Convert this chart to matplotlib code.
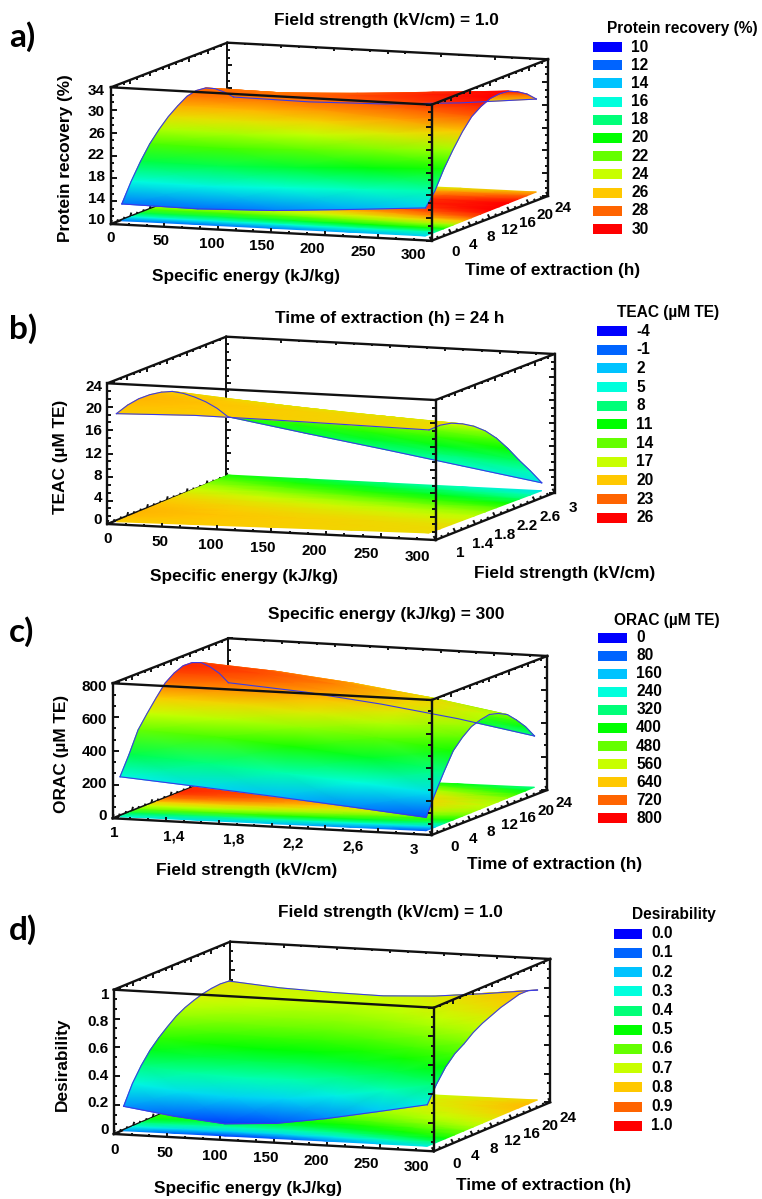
import numpy as np
import matplotlib
matplotlib.use('Agg')
import matplotlib.pyplot as plt
from matplotlib.colors import LinearSegmentedColormap, Normalize
from matplotlib.patches import Rectangle

plt.rcParams['font.family'] = ['Liberation Sans', 'DejaVu Sans']
plt.rcParams['font.weight'] = 'bold'

energy = [0, 75, 150, 225, 300]
energy_d = [0, 50, 100, 150, 200, 250, 300]
field = [1.0, 1.5, 2.0, 2.5, 3.0]
time_h = [0, 2, 4, 6, 8, 10, 12, 14, 16, 18, 20, 22, 24]
field_rows = [1.0, 1.2, 1.4, 1.6, 1.8, 2.0, 2.2, 2.4, 2.6, 2.8, 3.0]

# rows = depth axis (front to back), columns = front axis
protein = [
    [12.4, 12.2, 12.6, 13.5, 14.5],
    [15.9, 15.7, 16.1, 16.5, 16.9],
    [18.9, 18.7, 19.2, 19.8, 20.4],
    [21.5, 21.3, 21.8, 22.5, 23.3],
    [23.5, 23.3, 23.9, 24.8, 25.9],
    [25.2, 25.0, 25.6, 26.7, 28.0],
    [26.5, 26.3, 26.9, 28.0, 29.2],
    [27.6, 27.4, 28.0, 28.9, 30.0],
    [28.0, 27.8, 28.4, 29.3, 30.2],
    [27.8, 27.6, 28.2, 29.1, 30.0],
    [27.0, 26.8, 27.3, 28.2, 29.2],
    [25.7, 25.5, 26.0, 27.0, 28.1],
    [24.1, 23.9, 24.2, 25.1, 26.5],
]
teac = [
    [18.8, 19.0, 18.7, 18.3, 17.9],
    [19.5, 19.1, 18.8, 18.4, 18.0],
    [19.8, 19.3, 18.7, 18.2, 17.6],
    [19.7, 19.0, 18.2, 17.5, 16.7],
    [19.3, 18.4, 17.4, 16.5, 15.5],
    [18.6, 17.4, 16.3, 15.1, 13.9],
    [17.4, 16.0, 14.6, 13.2, 11.8],
    [15.9, 14.2, 12.6, 10.9, 9.2],
    [14.2, 12.2, 10.3, 8.3, 6.3],
    [12.2, 10.0, 7.9, 5.8, 3.6],
    [9.8, 7.5, 5.3, 3.0, 0.7],
]
orac = [
    [233, 195, 155, 112, 67],
    [350, 315, 278, 238, 195],
    [480, 458, 420, 372, 310],
    [560, 546, 517, 473, 415],
    [635, 620, 588, 540, 475],
    [705, 684, 645, 591, 520],
    [745, 719, 675, 616, 540],
    [768, 739, 693, 630, 551],
    [765, 733, 683, 618, 535],
    [742, 708, 656, 589, 505],
    [692, 656, 603, 535, 449],
    [630, 594, 540, 471, 385],
    [549, 513, 459, 390, 304],
]
desir = [
    [.149, .095, .058, .080, .135, .205, .277],
    [.290, .245, .225, .235, .275, .335, .400],
    [.395, .358, .342, .349, .388, .440, .500],
    [.480, .448, .432, .434, .465, .515, .570],
    [.545, .515, .498, .495, .520, .565, .615],
    [.600, .570, .554, .552, .577, .620, .670],
    [.650, .620, .604, .600, .622, .665, .710],
    [.685, .656, .640, .635, .655, .695, .740],
    [.710, .682, .666, .662, .682, .725, .770],
    [.730, .702, .688, .683, .702, .745, .790],
    [.742, .716, .702, .700, .720, .765, .810],
    [.747, .720, .706, .702, .722, .767, .810],
    [.740, .708, .693, .686, .703, .740, .785],
]

x_ticks_energy = ['0', '50', '100', '150', '200', '250', '300']
x_ticks_field = ['1', '1,4', '1,8', '2,2', '2,6', '3']
d_ticks_time = ['0', '4', '8', '12', '16', '20', '24']
d_ticks_field = ['1', '1.4', '1.8', '2.2', '2.6', '3']
z_protein = [10, 14, 18, 22, 26, 30, 34]
z_teac = [0, 4, 8, 12, 16, 20, 24]
z_orac = [0, 200, 400, 600, 800]
z_desir = [0, 0.2, 0.4, 0.6, 0.8, 1]
leg_protein = ['10', '12', '14', '16', '18', '20', '22', '24', '26', '28', '30']
leg_teac = ['-4', '-1', '2', '5', '8', '11', '14', '17', '20', '23', '26']
leg_orac = ['0', '80', '160', '240', '320', '400', '480', '560', '640', '720', '800']
leg_desir = ['0.0', '0.1', '0.2', '0.3', '0.4', '0.5', '0.6', '0.7', '0.8', '0.9', '1.0']

colors = ['#0000ff', '#0064ff', '#00c3ff', '#00ffdc', '#00ff78', '#00ff00',
          '#64ff00', '#c8ff00', '#ffc800', '#ff6400', '#ff0000']
cmap = LinearSegmentedColormap.from_list('surf', colors, N=512)

fig = plt.figure(figsize=(7.62, 11.99), dpi=100)
ax = fig.add_axes([0, 0, 1, 1])
ax.axis('off')
BOX = '#111111'


def edge(p, q, lw=1.7, z=5):
    ax.plot([p[0], q[0]], [p[1], q[1]], color=BOX, lw=lw, zorder=z, solid_capstyle='projecting')


def ticks(p, q, n_major, d, z=6, n_minor=3):
    # small tick marks along one box edge, d = direction of a long tick
    p, q = np.array(p, float), np.array(q, float)
    n = n_major * n_minor
    for i in range(n + 1):
        a = p + (q - p) * i / n
        k = 1.0 if i % n_minor == 0 else 0.55
        ax.plot([a[0], a[0] + d[0] * k], [a[1], a[1] + d[1] * k], color=BOX, lw=1.4, zorder=z,
                solid_capstyle='butt')


def panel(g, xs, ts, table, norm):
    zt = np.array(table, float)
    X, T = np.meshgrid(np.array(xs, float), np.array(ts, float))
    u = (X - X.min()) / (X.max() - X.min())
    v = (T - T.min()) / (T.max() - T.min())
    c = np.array([g['fl'], g['fr'], g['br'], g['bl']], float)
    gx = (1 - u) * (1 - v) * c[0, 0] + u * (1 - v) * c[1, 0] + u * v * c[2, 0] + (1 - u) * v * c[3, 0]
    gy = (1 - u) * (1 - v) * c[0, 1] + u * (1 - v) * c[1, 1] + u * v * c[2, 1] + (1 - u) * v * c[3, 1]
    flt, flb, frt, frb, brt, brb, blt = g['flt'], g['flb'], g['frt'], g['frb'], g['brt'], g['brb'], g['blt']
    blb = (blt[0], flb[1] + brb[1] - frb[1])
    zlo, zhi = g['zr']
    sc = (flb[1] - flt[1]) / (zhi - zlo)
    sy = gy - (zt - zlo) * sc

    # back of the box
    edge(blt, brt, z=1)
    edge(blt, blb, lw=1.4, z=1)
    edge(brt, brb, z=1)
    nz = g['nz']
    ticks(blt, blb, nz, (5, 0), z=1)
    ticks(brt, brb, nz, (-6, 0), z=1)
    ticks(blt, brt, 6, (0, 3), z=1)
    edge(flb, blb, z=1)
    ticks(flb, blb, 6, (1, -4), z=1)
    edge(frb, brb, z=1)
    ticks(frb, brb, 6, (-2, -4), z=1)

    # contour on the floor, then the surface, back row first
    ax.pcolormesh(gx[::-1], gy[::-1], zt[::-1], shading='gouraud', cmap=cmap, norm=norm, zorder=2, rasterized=True)
    ax.pcolormesh(gx[::-1], sy[::-1], zt[::-1], shading='gouraud', cmap=cmap, norm=norm, zorder=3, rasterized=True)
    for a, b in ((gx[0], sy[0]), (gx[-1], sy[-1]), (gx[:, 0], sy[:, 0]), (gx[:, -1], sy[:, -1])):
        ax.plot(a, b, color='#3a3ae6', lw=0.8, zorder=4)

    # front of the box
    edge(flt, frt)
    edge(flt, flb)
    edge(frt, frb)
    edge(flb, frb)
    edge(flt, blt)
    edge(frt, brt)
    ticks(flt, flb, nz, (6, 0))
    ticks(frt, frb, nz, (-6, 0))
    ticks(flb, frb, 6, (0, -4))
    ticks(flt, blt, 6, (0, 4))
    ticks(frt, brt, 6, (0, 4))

    for zv in g['zt']:
        ax.text(g['zx'], flb[1] - (zv - zlo) * sc, str(zv), ha='right', va='center', fontsize=11)
    for lab, px, py in zip(g['xl'], np.linspace(*g['xa'], len(g['xl'])), np.linspace(*g['xb'], len(g['xl']))):
        ax.text(px, py, lab, ha='center', va='center', fontsize=11)
    for lab, px, py in zip(g['dl'], np.linspace(*g['da'], len(g['dl'])), np.linspace(*g['db'], len(g['dl']))):
        ax.text(px, py, lab, ha='center', va='center', fontsize=11)

    ax.text(*g['title'][1:], g['title'][0], ha='center', va='center', fontsize=12.4)
    ax.text(*g['zlab'][1:], g['zlab'][0], ha='center', va='center', rotation=90, fontsize=12.4)
    ax.text(*g['xlab'][1:], g['xlab'][0], ha='center', va='center', fontsize=12.4)
    ax.text(*g['dlab'][1:], g['dlab'][0], ha='center', va='center', fontsize=12.4)
    ax.text(*g['tag'][1:], g['tag'][0], ha='left', va='center', fontsize=24, family='Lato')

    # legend
    ax.text(*g['lt'][1:], g['lt'][0], ha='center', va='center', fontsize=11.2)
    x0, x1 = g['lx']
    for i, (lab, y) in enumerate(zip(g['ll'], np.linspace(*g['ly'], 11))):
        ax.add_patch(Rectangle((x0, y - 5), x1 - x0, 10, fc=colors[i], ec='none', zorder=2))
        ax.text(x1 + 9.5, y, lab, ha='left', va='center', fontsize=11.2)


geo_a = dict(flt=(110.9, 87.3), flb=(110.9, 224), frt=(431.6, 104.7), frb=(431.6, 240.7),
             brt=(548, 59.3), brb=(548, 196), blt=(227.3, 42.7), nz=6,
             fl=(121.8, 220.7), fr=(425.5, 236), br=(536.4, 192), bl=(233.5, 177),
             zr=(9.3, 34.6), zt=z_protein, zx=105, xl=x_ticks_energy, xa=(110.9, 413.5), xb=(238, 255),
             dl=d_ticks_time, da=(455.3, 562.9), db=(252, 208),
             title=('Field strength (kV/cm) = 1.0', 386, 20), zlab=('Protein recovery (%)', 65.5, 158),
             xlab=('Specific energy (kJ/kg)', 245.5, 276), dlab=('Time of extraction (h)', 553, 270),
             tag=('a)', 9, 37), lt=('Protein recovery (%)', 682, 28), lx=(593, 622), ly=(47, 229), ll=leg_protein)
geo_b = dict(flt=(107.3, 383.3), flb=(107.3, 524), frt=(435.6, 400), frb=(435.6, 540),
             brt=(554.5, 354), brb=(554.5, 492.7), blt=(226.2, 336.7), nz=6,
             fl=(116.4, 521.7), fr=(429, 533), br=(541.8, 490.7), bl=(228, 475),
             zr=(-0.72, 24.7), zt=z_teac, zx=102, xl=x_ticks_energy, xa=(108, 417.5), xb=(539.3, 556.7),
             dl=d_ticks_field, da=(460, 572.7), db=(553.3, 508.3),
             title=('Time of extraction (h) = 24 h', 389.8, 318.3), zlab=('TEAC (µM TE)', 60, 456.7),
             xlab=('Specific energy (kJ/kg)', 244.4, 576.7), dlab=('Field strength (kV/cm)', 564.3, 573.3),
             tag=('b)', 9, 329), lt=('TEAC (µM TE)', 667.7, 312), lx=(597.3, 626.7), ly=(331, 517.7), ll=leg_teac)
geo_c = dict(flt=(112.7, 683.3), flb=(112.7, 818.3), frt=(431.6, 700), frb=(431.6, 835),
             brt=(547.3, 656), brb=(547.3, 790), blt=(228.4, 638.3), nz=4,
             fl=(120, 816.7), fr=(426.2, 830.7), br=(534.5, 787.3), bl=(228.4, 773.3),
             zr=(-16, 826), zt=z_orac, zx=107, xl=x_ticks_field, xa=(113.8, 413.5), xb=(833.3, 850),
             dl=d_ticks_time, da=(454.3, 564), db=(846.7, 803.3),
             title=('Specific energy (kJ/kg) = 300', 386.5, 614.3), zlab=('ORAC (µM TE)', 61.8, 754),
             xlab=('Field strength (kV/cm)', 246.5, 870), dlab=('Time of extraction (h)', 555, 864.3),
             tag=('c)', 9, 632), lt=('ORAC (µM TE)', 666.7, 620), lx=(598.3, 626.7), ly=(637.7, 818.3), ll=leg_orac)
geo_d = dict(flt=(113.8, 989.7), flb=(113.8, 1134), frt=(433.8, 1007.7), frb=(433.8, 1151.3),
             brt=(550.2, 959), brb=(550.2, 1102.3), blt=(230.2, 941.7), nz=5,
             fl=(123.6, 1130.7), fr=(427.3, 1146.3), br=(537.5, 1100), bl=(229, 1085),
             zr=(-0.032, 1.04), zt=z_desir, zx=109, xl=x_ticks_energy, xa=(114.5, 416.4), xb=(1149.7, 1167.3),
             dl=d_ticks_time, da=(456.7, 568.3), db=(1164, 1118.3),
             title=('Field strength (kV/cm) = 1.0', 390.9, 913), zlab=('Desirability', 62.5, 1064.7),
             xlab=('Specific energy (kJ/kg)', 248, 1188.3), dlab=('Time of extraction (h)', 543.3, 1185.7),
             tag=('d)', 9, 930), lt=('Desirability', 674.3, 914), lx=(614, 642), ly=(933.7, 1125.7), ll=leg_desir)

panel(geo_a, energy, time_h, protein, Normalize(10, 30))
panel(geo_b, energy, field_rows, teac, Normalize(-8, 26))
panel(geo_c, field, time_h, orac, Normalize(0, 800))
panel(geo_d, energy_d, time_h, desir, Normalize(0, 1))

ax.set_xlim(0, 762)
ax.set_ylim(1199, 0)
fig.savefig('out.png', dpi=100)
